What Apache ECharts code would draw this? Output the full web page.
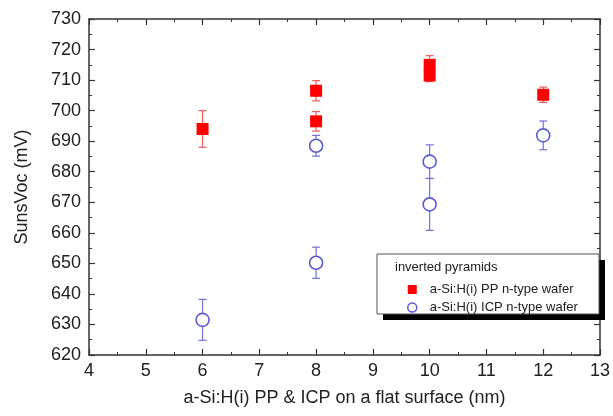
<!DOCTYPE html>
<html>
<head>
<meta charset="utf-8">
<script src="https://cdn.jsdelivr.net/npm/echarts@6/dist/echarts.min.js"></script>
<style>html,body{margin:0;padding:0;background:#fff}#c{width:613px;height:416px}</style>
</head>
<body>
<div id="c"></div>
<script>
// Data
const ppX   = [6, 8, 8, 10, 10, 12];
const ppY   = [694, 706.5, 696.5, 715, 711.5, 705.2];
const ppErr = [6, 3.3, 3.2, 3, 2, 2.5];
const icpX   = [6, 8, 8, 10, 10, 12];
const icpY   = [631.5, 688.5, 650.2, 683.3, 669.3, 691.9];
const icpErr = [6.7, 3.4, 5.1, 5.5, 8.5, 4.7];
const seriesNames = ['a-Si:H(i) PP n-type wafer', 'a-Si:H(i) ICP n-type wafer'];
const legendTitle = 'inverted pyramids';
const xName = 'a-Si:H(i) PP & ICP on a flat surface (nm)';
const yName = 'SunsVoc (mV)';

const RED = '#ff0000', BLUE = '#5b5bd6';
const FONT = 'Liberation Sans, Arial, sans-serif';

function pts(xs, ys) { return xs.map((x, i) => [x, ys[i]]); }
function errs(xs, ys, es) { return xs.map((x, i) => [x, ys[i] - es[i], ys[i] + es[i]]); }

function errRender(color) {
  return function (params, api) {
    const x = api.value(0), lo = api.value(1), hi = api.value(2);
    const pLo = api.coord([x, lo]), pHi = api.coord([x, hi]);
    const w = 4;
    const st = { stroke: color, lineWidth: 1.2 };
    return {
      type: 'group',
      children: [
        { type: 'line', shape: { x1: pLo[0], y1: pLo[1], x2: pHi[0], y2: pHi[1] }, style: st },
        { type: 'line', shape: { x1: pLo[0] - w, y1: pLo[1], x2: pLo[0] + w, y2: pLo[1] }, style: st },
        { type: 'line', shape: { x1: pHi[0] - w, y1: pHi[1], x2: pHi[0] + w, y2: pHi[1] }, style: st }
      ]
    };
  };
}

const axisLine = { show: true, lineStyle: { color: '#333', width: 1.5 } };
const tick = { inside: true, length: 6, lineStyle: { color: '#333', width: 1.2 } };
const minor = { show: true, splitNumber: 2, length: 3, lineStyle: { color: '#333' } };
const chart = echarts.init(document.getElementById('c'), null, { renderer: 'canvas' });
chart.setOption({
  animation: false,
  backgroundColor: '#fff',
  grid: { left: 89, right: 12, top: 19, bottom: 61 },
  xAxis: [{
    type: 'value', min: 4, max: 13, interval: 1,
    name: xName, nameLocation: 'middle', nameGap: 34,
    nameTextStyle: { fontFamily: FONT, fontSize: 18, color: '#222' },
    axisLine: axisLine, axisTick: tick, minorTick: minor,
    axisLabel: { fontFamily: FONT, fontSize: 18, color: '#222', margin: 7 },
    splitLine: { show: false }
  }, {
    type: 'value', position: 'top', min: 4, max: 13, interval: 1,
    axisLine: axisLine, axisTick: tick, minorTick: minor,
    axisLabel: { show: false }, splitLine: { show: false }
  }],
  yAxis: [{
    type: 'value', min: 620, max: 730, interval: 10,
    name: yName, nameLocation: 'middle', nameGap: 58, nameRotate: 90,
    nameTextStyle: { fontFamily: FONT, fontSize: 18, color: '#222' },
    axisLine: axisLine, axisTick: tick, minorTick: minor,
    axisLabel: { fontFamily: FONT, fontSize: 18, color: '#222', margin: 8 },
    splitLine: { show: false }
  }, {
    type: 'value', position: 'right', min: 620, max: 730, interval: 10,
    axisLine: axisLine, axisTick: tick, minorTick: minor,
    axisLabel: { show: false }, splitLine: { show: false }
  }],
  legend: {
    orient: 'vertical', left: 402, top: 278, itemGap: 5,
    itemWidth: 9, itemHeight: 9, z: 20,
    textStyle: { fontFamily: FONT, fontSize: 13, color: '#222', padding: [0, 0, 0, 8] },
    data: [
      { name: seriesNames[0], icon: 'rect', itemStyle: { color: RED, borderWidth: 0 } },
      { name: seriesNames[1], icon: 'circle', itemStyle: { color: '#fff', borderColor: BLUE, borderWidth: 1.5 } }
    ]
  },
  graphic: [
    { type: 'rect', z: 4, shape: { x: 383, y: 260, width: 222, height: 60 },
      style: { fill: '#000' } },
    { type: 'rect', z: 5, shape: { x: 377, y: 254, width: 222, height: 60 },
      style: { fill: '#fff', stroke: '#555', lineWidth: 1 } },
    { type: 'text', z: 20, left: 395, top: 261,
      style: { text: legendTitle, font: '13px ' + FONT, fill: '#222' } }
  ],
  series: [
    { type: 'custom', name: 'ppErr', data: errs(ppX, ppY, ppErr), renderItem: errRender('#ef5a5a'), z: 2,
      encode: { x: 0, y: [1, 2] }, silent: true },
    { type: 'custom', name: 'icpErr', data: errs(icpX, icpY, icpErr), renderItem: errRender('#7272dc'), z: 2,
      encode: { x: 0, y: [1, 2] }, silent: true },
    { type: 'scatter', name: seriesNames[0], data: pts(ppX, ppY), symbol: 'rect', symbolSize: 12,
      itemStyle: { color: RED, opacity: 1 }, z: 3 },
    { type: 'scatter', name: seriesNames[1], data: pts(icpX, icpY), symbol: 'circle', symbolSize: 13,
      itemStyle: { color: '#fff', borderColor: BLUE, borderWidth: 1.6, opacity: 1 }, z: 3 }
  ]
});
</script>
</body>
</html>
